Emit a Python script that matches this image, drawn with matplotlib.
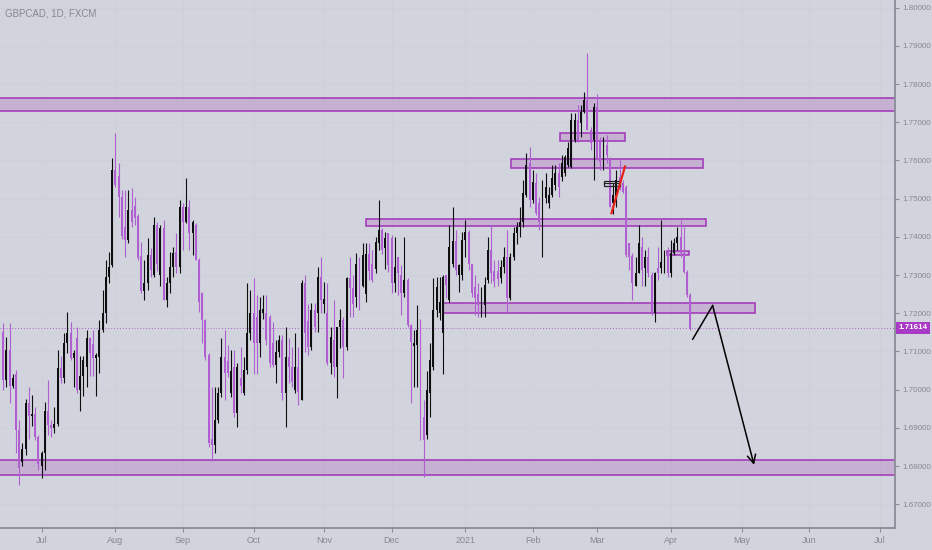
import numpy as np
import pandas as pd
import matplotlib
matplotlib.use('Agg')
import matplotlib.pyplot as plt
from matplotlib.patches import Rectangle

# GBPCAD daily candles (first bar 2020-06-15)
first_day = '2020-06-15'

opens = [
    1.7150, 1.7025, 1.7104, 1.7010, 1.7040, 1.6895, 1.6810, 1.6845, 1.6964, 1.6930,
    1.6935, 1.6877, 1.6800, 1.6833, 1.6945, 1.6908, 1.6900, 1.6910, 1.7056, 1.7030,
    1.7121, 1.7148, 1.7082, 1.7135, 1.7000, 1.7035, 1.7060, 1.7135, 1.7120, 1.7082,
    1.7085, 1.7156, 1.7200, 1.7296, 1.7326, 1.7575, 1.7560, 1.7505, 1.7426, 1.7392,
    1.7470, 1.7480, 1.7455, 1.7350, 1.7257, 1.7280, 1.7353, 1.7300, 1.7430, 1.7300,
    1.7424, 1.7235, 1.7280, 1.7320, 1.7360, 1.7320, 1.7479, 1.7440, 1.7479, 1.7410,
    1.7430, 1.7339, 1.7252, 1.7182, 1.7090, 1.6870, 1.6855, 1.6920, 1.6990, 1.7086,
    1.7075, 1.6990, 1.7060, 1.6940, 1.7030, 1.6990, 1.7051, 1.7147, 1.7200, 1.7190,
    1.7121, 1.7200, 1.7200, 1.7190, 1.7121, 1.7064, 1.7099, 1.7130, 1.6990, 1.7086,
    1.7060, 1.6999, 1.7060, 1.6973, 1.7278, 1.7180, 1.7112, 1.7208, 1.7200, 1.7295,
    1.7225, 1.7200, 1.7069, 1.7130, 1.7060, 1.7165, 1.7182, 1.7112, 1.7291, 1.7265,
    1.7243, 1.7330, 1.7270, 1.7250, 1.7356, 1.7330, 1.7317, 1.7383, 1.7418, 1.7370,
    1.7409, 1.7396, 1.7278, 1.7348, 1.7300, 1.7252, 1.7287, 1.7169, 1.7113, 1.7117,
    1.7156, 1.6929, 1.6880, 1.6990, 1.7060, 1.7208, 1.7200, 1.7147, 1.7300, 1.7234,
    1.7330, 1.7390, 1.7300, 1.7300, 1.7392, 1.7413, 1.7330, 1.7269, 1.7250, 1.7210,
    1.7221, 1.7287, 1.7365, 1.7310, 1.7310, 1.7291, 1.7322, 1.7348, 1.7239, 1.7348,
    1.7409, 1.7426, 1.7440, 1.7510, 1.7592, 1.7496, 1.7540, 1.7488, 1.7466, 1.7501,
    1.7488, 1.7510, 1.7536, 1.7566, 1.7557, 1.7566, 1.7588, 1.7583, 1.7654, 1.7706,
    1.7697, 1.7727, 1.7758, 1.7680, 1.7654, 1.7741, 1.7650, 1.7610, 1.7640, 1.7600,
    1.7488, 1.7500, 1.7557, 1.7540, 1.7530, 1.7383, 1.7350, 1.7270, 1.7304, 1.7374,
    1.7318, 1.7348, 1.7300, 1.7200, 1.7318, 1.7318, 1.7322, 1.7357, 1.7304, 1.7357,
    1.7383, 1.7400, 1.7357, 1.7309, 1.7248,
]
highs = [
    1.7174, 1.7139, 1.7174, 1.7040, 1.7052, 1.6921, 1.6860, 1.6975, 1.7008, 1.6986,
    1.6955, 1.6880, 1.6840, 1.6968, 1.7025, 1.6921, 1.6955, 1.7104, 1.7087, 1.7148,
    1.7204, 1.7178, 1.7104, 1.7165, 1.7087, 1.7087, 1.7156, 1.7139, 1.7156, 1.7095,
    1.7182, 1.7261, 1.7340, 1.7361, 1.7606, 1.7671, 1.7593, 1.7523, 1.7523, 1.7523,
    1.7527, 1.7505, 1.7460, 1.7387, 1.7339, 1.7396, 1.7370, 1.7453, 1.7440, 1.7431,
    1.7444, 1.7296, 1.7361, 1.7374, 1.7409, 1.7496, 1.7488, 1.7553, 1.7496, 1.7445,
    1.7436, 1.7344, 1.7256, 1.7185, 1.7095, 1.7008, 1.7008, 1.7008, 1.7134, 1.7156,
    1.7117, 1.7103, 1.7103, 1.7069, 1.7112, 1.7086, 1.7278, 1.7260, 1.7291, 1.7247,
    1.7243, 1.7247, 1.7247, 1.7195, 1.7177, 1.7130, 1.7143, 1.7143, 1.7165, 1.7134,
    1.7112, 1.7147, 1.7112, 1.7287, 1.7300, 1.7223, 1.7226, 1.7226, 1.7322, 1.7348,
    1.7282, 1.7278, 1.7165, 1.7234, 1.7165, 1.7212, 1.7190, 1.7295, 1.7348, 1.7300,
    1.7357, 1.7348, 1.7383, 1.7383, 1.7383, 1.7365, 1.7400, 1.7496, 1.7422, 1.7413,
    1.7409, 1.7404, 1.7400, 1.7348, 1.7326, 1.7400, 1.7291, 1.7173, 1.7156, 1.7221,
    1.7186, 1.6973, 1.7050, 1.7121, 1.7291, 1.7296, 1.7296, 1.7300, 1.7300, 1.7431,
    1.7479, 1.7418, 1.7330, 1.7413, 1.7444, 1.7418, 1.7330, 1.7300, 1.7278, 1.7269,
    1.7296, 1.7400, 1.7431, 1.7339, 1.7339, 1.7339, 1.7374, 1.7418, 1.7357, 1.7426,
    1.7440, 1.7479, 1.7549, 1.7619, 1.7636, 1.7575, 1.7566, 1.7505, 1.7549, 1.7566,
    1.7531, 1.7588, 1.7588, 1.7592, 1.7614, 1.7614, 1.7649, 1.7723, 1.7723, 1.7745,
    1.7745, 1.7780, 1.7880, 1.7688, 1.7749, 1.7775, 1.7662, 1.7662, 1.7667, 1.7610,
    1.7540, 1.7575, 1.7600, 1.7548, 1.7535, 1.7383, 1.7357, 1.7348, 1.7431, 1.7400,
    1.7365, 1.7374, 1.7308, 1.7308, 1.7374, 1.7444, 1.7365, 1.7374, 1.7392, 1.7396,
    1.7426, 1.7444, 1.7426, 1.7313, 1.7252,
]
lows = [
    1.7000, 1.7008, 1.6964, 1.7005, 1.6833, 1.6750, 1.6800, 1.6830, 1.6870, 1.6905,
    1.6868, 1.6790, 1.6768, 1.6790, 1.6882, 1.6877, 1.6886, 1.6905, 1.7017, 1.7017,
    1.7095, 1.7078, 1.7008, 1.6990, 1.6944, 1.6983, 1.7008, 1.7035, 1.7035, 1.6983,
    1.7043, 1.7150, 1.7174, 1.7280, 1.7322, 1.7531, 1.7453, 1.7395, 1.7348, 1.7385,
    1.7426, 1.7430, 1.7340, 1.7252, 1.7235, 1.7260, 1.7296, 1.7296, 1.7310, 1.7270,
    1.7235, 1.7217, 1.7252, 1.7296, 1.7305, 1.7305, 1.7365, 1.7435, 1.7365, 1.7353,
    1.7339, 1.7204, 1.7121, 1.7077, 1.6851, 1.6812, 1.6833, 1.6912, 1.6981, 1.6973,
    1.7034, 1.6981, 1.6929, 1.6903, 1.6990, 1.6986, 1.7042, 1.7130, 1.7042, 1.7042,
    1.7086, 1.7185, 1.7117, 1.7060, 1.7060, 1.7016, 1.7086, 1.6973, 1.6903, 1.7016,
    1.7008, 1.6990, 1.6959, 1.6973, 1.7099, 1.7090, 1.7103, 1.7151, 1.7151, 1.7200,
    1.7200, 1.7064, 1.7042, 1.7034, 1.6977, 1.7110, 1.7030, 1.7103, 1.7191, 1.7191,
    1.7217, 1.7208, 1.7269, 1.7230, 1.7287, 1.7282, 1.7304, 1.7365, 1.7356, 1.7317,
    1.7309, 1.7252, 1.7256, 1.7247, 1.7195, 1.7243, 1.7165, 1.6964, 1.7008, 1.7008,
    1.6868, 1.6772, 1.6870, 1.6929, 1.7051, 1.7191, 1.7182, 1.7042, 1.7240, 1.7230,
    1.7322, 1.7300, 1.7256, 1.7287, 1.7348, 1.7313, 1.7243, 1.7195, 1.7191, 1.7191,
    1.7191, 1.7278, 1.7278, 1.7269, 1.7270, 1.7278, 1.7304, 1.7200, 1.7234, 1.7339,
    1.7380, 1.7400, 1.7426, 1.7505, 1.7479, 1.7488, 1.7457, 1.7418, 1.7348, 1.7488,
    1.7475, 1.7505, 1.7523, 1.7505, 1.7545, 1.7558, 1.7583, 1.7579, 1.7649, 1.7649,
    1.7662, 1.7723, 1.7680, 1.7627, 1.7549, 1.7601, 1.7575, 1.7575, 1.7592, 1.7479,
    1.7460, 1.7479, 1.7522, 1.7514, 1.7348, 1.7313, 1.7234, 1.7270, 1.7304, 1.7270,
    1.7270, 1.7295, 1.7195, 1.7178, 1.7287, 1.7304, 1.7304, 1.7295, 1.7295, 1.7353,
    1.7365, 1.7348, 1.7304, 1.7243, 1.7156,
]
closes = [
    1.7025, 1.7104, 1.7010, 1.7030, 1.6895, 1.6795, 1.6845, 1.6964, 1.6930, 1.6935,
    1.6877, 1.6805, 1.6833, 1.6945, 1.6908, 1.6900, 1.6910, 1.7056, 1.7030, 1.7121,
    1.7148, 1.7082, 1.7095, 1.7000, 1.7035, 1.7078, 1.7135, 1.7095, 1.7082, 1.7090,
    1.7156, 1.7200, 1.7296, 1.7322, 1.7575, 1.7536, 1.7505, 1.7401, 1.7392, 1.7470,
    1.7440, 1.7450, 1.7345, 1.7257, 1.7280, 1.7353, 1.7313, 1.7430, 1.7330, 1.7424,
    1.7235, 1.7280, 1.7320, 1.7357, 1.7320, 1.7479, 1.7440, 1.7479, 1.7410, 1.7440,
    1.7339, 1.7230, 1.7182, 1.7086, 1.6859, 1.6855, 1.6920, 1.6990, 1.7086, 1.7043,
    1.7043, 1.7050, 1.6940, 1.7060, 1.7010, 1.7051, 1.7147, 1.7200, 1.7121, 1.7121,
    1.7208, 1.7210, 1.7130, 1.7069, 1.7064, 1.7099, 1.7130, 1.6990, 1.7086, 1.7060,
    1.7020, 1.7060, 1.6994, 1.7278, 1.7147, 1.7112, 1.7208, 1.7165, 1.7295, 1.7234,
    1.7238, 1.7069, 1.7138, 1.7060, 1.7165, 1.7182, 1.7112, 1.7291, 1.7265, 1.7225,
    1.7330, 1.7260, 1.7352, 1.7355, 1.7310, 1.7287, 1.7387, 1.7418, 1.7365, 1.7396,
    1.7326, 1.7278, 1.7322, 1.7304, 1.7252, 1.7287, 1.7169, 1.7125, 1.7121, 1.7156,
    1.6920, 1.6868, 1.7000, 1.7077, 1.7208, 1.7269, 1.7230, 1.7296, 1.7274, 1.7374,
    1.7390, 1.7313, 1.7326, 1.7392, 1.7413, 1.7330, 1.7252, 1.7239, 1.7221, 1.7260,
    1.7274, 1.7365, 1.7304, 1.7283, 1.7290, 1.7322, 1.7348, 1.7239, 1.7348, 1.7409,
    1.7426, 1.7440, 1.7514, 1.7588, 1.7496, 1.7544, 1.7461, 1.7440, 1.7531, 1.7531,
    1.7510, 1.7553, 1.7566, 1.7531, 1.7592, 1.7610, 1.7632, 1.7706, 1.7706, 1.7654,
    1.7727, 1.7758, 1.7680, 1.7645, 1.7741, 1.7605, 1.7597, 1.7637, 1.7614, 1.7479,
    1.7510, 1.7550, 1.7530, 1.7518, 1.7352, 1.7348, 1.7278, 1.7304, 1.7383, 1.7313,
    1.7348, 1.7304, 1.7200, 1.7304, 1.7304, 1.7335, 1.7357, 1.7304, 1.7357, 1.7383,
    1.7400, 1.7357, 1.7309, 1.7248, 1.7161,
]
last_price = 1.71614

price_ticks = [1.67, 1.68, 1.69, 1.70, 1.71, 1.72, 1.73, 1.74, 1.75, 1.76, 1.77, 1.78, 1.79, 1.80]

# drawn zones (bar index from / to, price bottom / top)
zone_x0 = [-5, -5, 137.0, 113.0, 158.2, 173.5, 206.8]
zone_x1 = [300, 300, 234.2, 218.9, 217.9, 193.7, 213.6]
zone_lo = [1.7729, 1.6776, 1.7200, 1.7429, 1.7581, 1.7651, 1.7352]
zone_hi = [1.7763, 1.6815, 1.7227, 1.7447, 1.7604, 1.7673, 1.7363]

# projected path (black arrow) and the red trend line
path_x = [214.8, 221.0, 233.9]
path_y = [1.7132, 1.7220, 1.6803]
red_x = [189.5, 193.7]
red_y = [1.7462, 1.7584]
box_x = [187.2, 192.2]
box_y = [1.7534, 1.7547]

bg = '#d1d4dc'
up_col = '#0e0e10'
down_col = '#b05fd3'
purple = '#a033b8'
axis_col = '#8a8d97'
text_col = '#858892'

plt.rcParams['font.family'] = ['Liberation Sans Narrow', 'Liberation Sans', 'DejaVu Sans']

n = len(closes)
idx = np.arange(n)
o = np.array(opens)
c = np.array(closes)
cols = [up_col if cc >= oo else down_col for oo, cc in zip(o, c)]

fig = plt.figure(figsize=(9.32, 5.5), dpi=100, facecolor=bg)
ax = fig.add_axes([0, 22 / 550, 895 / 932, 528 / 550], facecolor=bg)

ax.grid(True, color='#cdd0d8', linewidth=0.6, zorder=0)

# zones
for x0, x1, lo, hi in zip(zone_x0, zone_x1, zone_lo, zone_hi):
    ax.add_patch(Rectangle((x0, lo), x1 - x0, hi - lo, facecolor=(0.61, 0.15, 0.69, 0.2),
                           edgecolor=purple, linewidth=1.1, zorder=2))

# candles
ax.vlines(idx, lows, highs, colors=cols, linewidth=0.8, zorder=3)
body = np.maximum(np.abs(c - o), 0.00012)
ax.bar(idx, body, bottom=np.minimum(o, c), width=0.6, color=cols, linewidth=0, zorder=4)

# last price line
ax.axhline(last_price, color=down_col, linestyle=(0, (1, 2)), linewidth=0.7, zorder=1)

# drawings
ax.add_patch(Rectangle((box_x[0], box_y[0]), box_x[1] - box_x[0], box_y[1] - box_y[0],
                       facecolor='none', edgecolor='#222222', linewidth=0.9, zorder=5))
ax.plot(box_x, [sum(box_y) / 2] * 2, color='#222222', linewidth=0.8, zorder=5)
ax.plot(red_x, red_y, color='#e5231b', linewidth=1.6, zorder=6)
ax.plot(path_x[:2], path_y[:2], color='black', linewidth=1.1, zorder=6)
ax.annotate('', xy=(path_x[2], path_y[2]), xytext=(path_x[1], path_y[1]),
            arrowprops=dict(arrowstyle='->,head_length=0.6,head_width=0.3', color='black',
                            linewidth=1.1, shrinkA=0, shrinkB=0), zorder=6)

# axes
dates = pd.bdate_range(first_day, periods=300)
ticks, labels = [], []
prev_month = dates[0].month
for i, d in enumerate(dates):
    if d.month != prev_month:
        ticks.append(i)
        labels.append('2021' if d.month == 1 else d.strftime('%b'))
    prev_month = d.month
ax.set_xticks(ticks)
ax.set_xticklabels(labels)
ax.set_xlim(-0.96, 277.8)
ax.set_ylim(1.66377, 1.80199)

ax.yaxis.tick_right()
ax.set_yticks(price_ticks)
ax.set_yticklabels(['%.5f' % p for p in price_ticks])
ax.tick_params(axis='both', colors=axis_col, labelcolor=text_col, length=3, width=0.8)
ax.tick_params(axis='y', pad=2, labelsize=5.8)
ax.tick_params(axis='x', pad=3, labelsize=6.5)
for side in ['top', 'left']:
    ax.spines[side].set_visible(False)
for side in ['right', 'bottom']:
    ax.spines[side].set_color(axis_col)
    ax.spines[side].set_linewidth(1.3)

ax.annotate('%.5f' % last_price, xy=(1.0, last_price), xycoords=('axes fraction', 'data'),
            xytext=(2.5, 0), textcoords='offset points', va='center', ha='left',
            color='white', fontsize=5.8, fontweight='bold',
            bbox=dict(boxstyle='square,pad=0.3', facecolor='#a93ac6', edgecolor='none'),
            annotation_clip=False, zorder=10)

fig.text(5 / 932, 1 - 13 / 550, 'GBPCAD, 1D, FXCM', color=text_col, fontsize=7, va='center')

fig.savefig('out.png', dpi=100, facecolor=bg)
